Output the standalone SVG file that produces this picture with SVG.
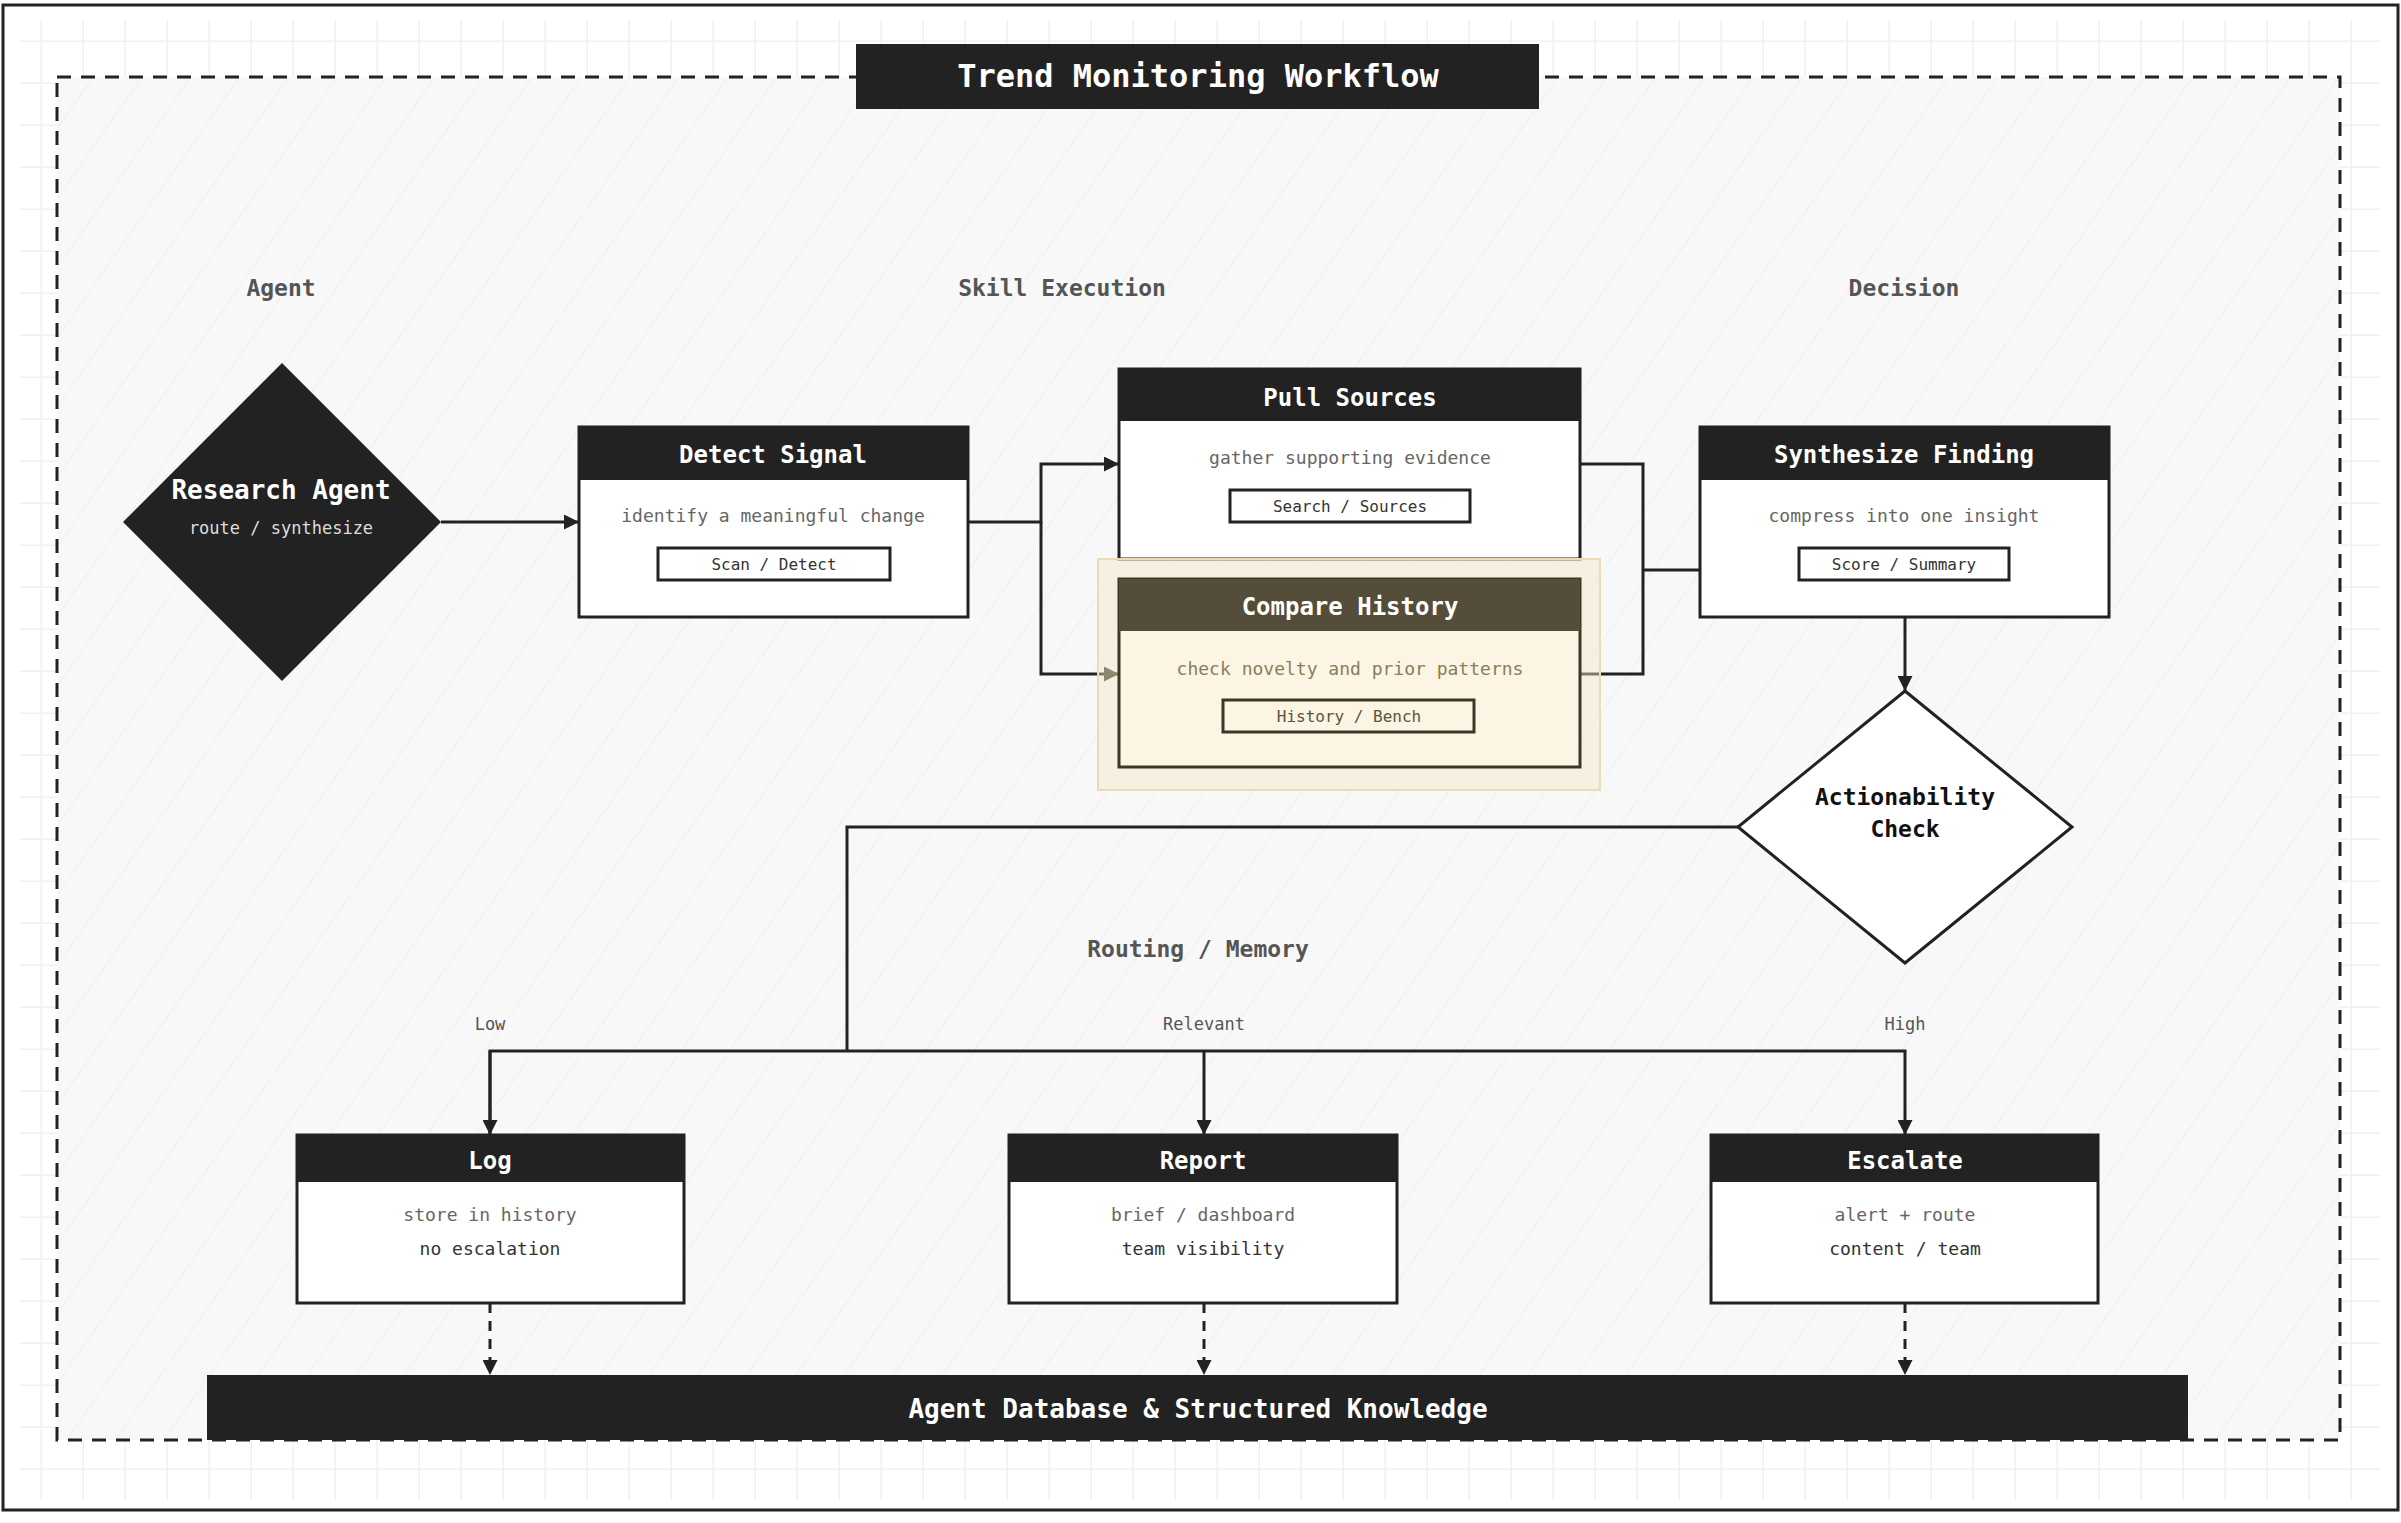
<svg xmlns="http://www.w3.org/2000/svg" width="2401" height="1523" viewBox="0 0 2401 1523">
<defs>
<pattern id="grid" width="42" height="42" patternUnits="userSpaceOnUse"><path d="M42 0V42M0 42H42" stroke="#f0f0f0" stroke-width="3" fill="none"/></pattern>
<pattern id="hatch" width="40" height="40" patternUnits="userSpaceOnUse" patternTransform="rotate(35)"><rect width="40" height="40" fill="#f8f8f8"/><line x1="0" y1="0" x2="0" y2="40" stroke="#ececec" stroke-width="1.5"/></pattern>
<marker id="ah" viewBox="0 0 10 10" refX="10" refY="5" markerWidth="5" markerHeight="5" orient="auto"><path d="M0 0L10 5L0 10z" fill="#222"/></marker>
<marker id="ahb" viewBox="0 0 10 10" refX="10" refY="5" markerWidth="5" markerHeight="5" orient="auto"><path d="M0 0L10 5L0 10z" fill="#3a3628"/></marker>
</defs>
<style>
text{font-family:"DejaVu Sans Mono","Liberation Mono",monospace;text-anchor:middle;dominant-baseline:central}
.box{fill:#fff;stroke:#222;stroke-width:3}
.hd{fill:#222}
.ttl{fill:#fff;font-weight:bold;font-size:24px}
.sub{fill:#666;font-size:18px}
.sub2{fill:#333;font-size:18px}
.chip{fill:#fff;stroke:#222;stroke-width:3}
.ct{fill:#333;font-size:16px}
.col{fill:#555;font-weight:bold;font-size:23px}
.lbl{fill:#555;font-size:17px}
.ln{fill:none;stroke:#222;stroke-width:3}
.dl{fill:none;stroke:#222;stroke-width:3;stroke-dasharray:10 8}
</style>
<rect width="2401" height="1523" fill="#fff"/>
<rect x="20" y="20" width="2360" height="1480" fill="url(#grid)"/>
<rect x="3" y="5" width="2395" height="1505" fill="none" stroke="#222" stroke-width="3"/>
<rect x="57" y="77" width="2283" height="1363" fill="url(#hatch)" stroke="#222" stroke-width="3" stroke-dasharray="14 10"/>
<g id="title"><rect x="856" y="44" width="683" height="65" fill="#222"/><text x="1198" y="76" fill="#fff" font-weight="bold" font-size="32">Trend Monitoring Workflow</text></g>
<g id="columns">
<text class="col" x="281" y="288">Agent</text>
<text class="col" x="1062" y="288">Skill Execution</text>
<text class="col" x="1904" y="288">Decision</text>
<text class="col" x="1198" y="949">Routing / Memory</text>
</g>
<g id="connectors">
<line class="ln" x1="441" y1="522" x2="579" y2="522" marker-end="url(#ah)"/>
<path class="ln" d="M968 522H1041V464H1119" marker-end="url(#ah)"/>
<path class="ln" d="M1041 522V674H1119" marker-end="url(#ahb)"/>
<path class="ln" d="M1580 464H1643V674H1580M1643 570H1700"/>
<line class="ln" x1="1905" y1="617" x2="1905" y2="691" marker-end="url(#ah)"/>
<path class="ln" d="M1738 827H847V1051"/>
<path class="ln" d="M490 1135V1051H1905V1135" marker-end="url(#ah)"/>
<path class="ln" d="M490 1051V1135" marker-end="url(#ah)"/>
<path class="ln" d="M1204 1051V1135" marker-end="url(#ah)"/>
<path class="dl" d="M490 1303V1375" marker-end="url(#ah)"/>
<path class="dl" d="M1204 1303V1375" marker-end="url(#ah)"/>
<path class="dl" d="M1905 1303V1375" marker-end="url(#ah)"/>
<text class="lbl" x="490" y="1024">Low</text>
<text class="lbl" x="1204" y="1024">Relevant</text>
<text class="lbl" x="1905" y="1024">High</text>
</g>
<g id="research-agent"><path d="M282 363L441 522L282 681L123 522z" fill="#222"/><text x="281" y="490" fill="#fff" font-weight="bold" font-size="26">Research Agent</text><text x="281" y="528" fill="#ddd" font-size="17">route / synthesize</text></g>
<g id="detect-signal"><rect class="box" x="579" y="427" width="389" height="190"/><rect class="hd" x="579" y="427" width="389" height="53"/><text class="ttl" x="773" y="455">Detect Signal</text><text class="sub" x="773" y="515">identify a meaningful change</text><rect class="chip" x="658" y="548" width="232" height="32"/><text class="ct" x="774" y="564">Scan / Detect</text></g>
<g id="pull-sources"><rect class="box" x="1119" y="369" width="461" height="190"/><rect class="hd" x="1119" y="369" width="461" height="52"/><text class="ttl" x="1350" y="398">Pull Sources</text><text class="sub" x="1350" y="457">gather supporting evidence</text><rect class="chip" x="1230" y="490" width="240" height="32"/><text class="ct" x="1350" y="506">Search / Sources</text></g>
<g id="compare-history"><rect x="1098" y="559" width="502" height="231" fill="#f3e6c4" fill-opacity="0.45" stroke="#eadcb5" stroke-width="2"/><rect x="1119" y="579" width="461" height="188" fill="#fcf5e4" stroke="#3a3628" stroke-width="3"/><rect x="1119" y="579" width="461" height="52" fill="#544d3a"/><text class="ttl" x="1350" y="607">Compare History</text><text x="1350" y="668" fill="#8a7d5a" font-size="18">check novelty and prior patterns</text><rect x="1223" y="700" width="251" height="32" fill="#fcf5e4" stroke="#3a3628" stroke-width="3"/><text x="1349" y="716" fill="#5a5240" font-size="16">History / Bench</text></g>
<g id="synthesize-finding"><rect class="box" x="1700" y="427" width="409" height="190"/><rect class="hd" x="1700" y="427" width="409" height="53"/><text class="ttl" x="1904" y="455">Synthesize Finding</text><text class="sub" x="1904" y="515">compress into one insight</text><rect class="chip" x="1799" y="548" width="210" height="32"/><text class="ct" x="1904" y="564">Score / Summary</text></g>
<g id="actionability-check"><path d="M1905 691L2072 827L1905 963L1738 827z" fill="#fff" stroke="#222" stroke-width="3"/><text x="1905" y="797" fill="#111" font-weight="bold" font-size="23">Actionability</text><text x="1905" y="829" fill="#111" font-weight="bold" font-size="23">Check</text></g>
<g id="log"><rect class="box" x="297" y="1135" width="387" height="168"/><rect class="hd" x="297" y="1135" width="387" height="47"/><text class="ttl" x="490" y="1161">Log</text><text class="sub" x="490" y="1214">store in history</text><text class="sub2" x="490" y="1248">no escalation</text></g>
<g id="report"><rect class="box" x="1009" y="1135" width="388" height="168"/><rect class="hd" x="1009" y="1135" width="388" height="47"/><text class="ttl" x="1203" y="1161">Report</text><text class="sub" x="1203" y="1214">brief / dashboard</text><text class="sub2" x="1203" y="1248">team visibility</text></g>
<g id="escalate"><rect class="box" x="1711" y="1135" width="387" height="168"/><rect class="hd" x="1711" y="1135" width="387" height="47"/><text class="ttl" x="1905" y="1161">Escalate</text><text class="sub" x="1905" y="1214">alert + route</text><text class="sub2" x="1905" y="1248">content / team</text></g>
<g id="database"><rect x="207" y="1375" width="1981" height="65" fill="#222"/><text x="1198" y="1409" fill="#fff" font-weight="bold" font-size="26">Agent Database &amp; Structured Knowledge</text></g>
</svg>
